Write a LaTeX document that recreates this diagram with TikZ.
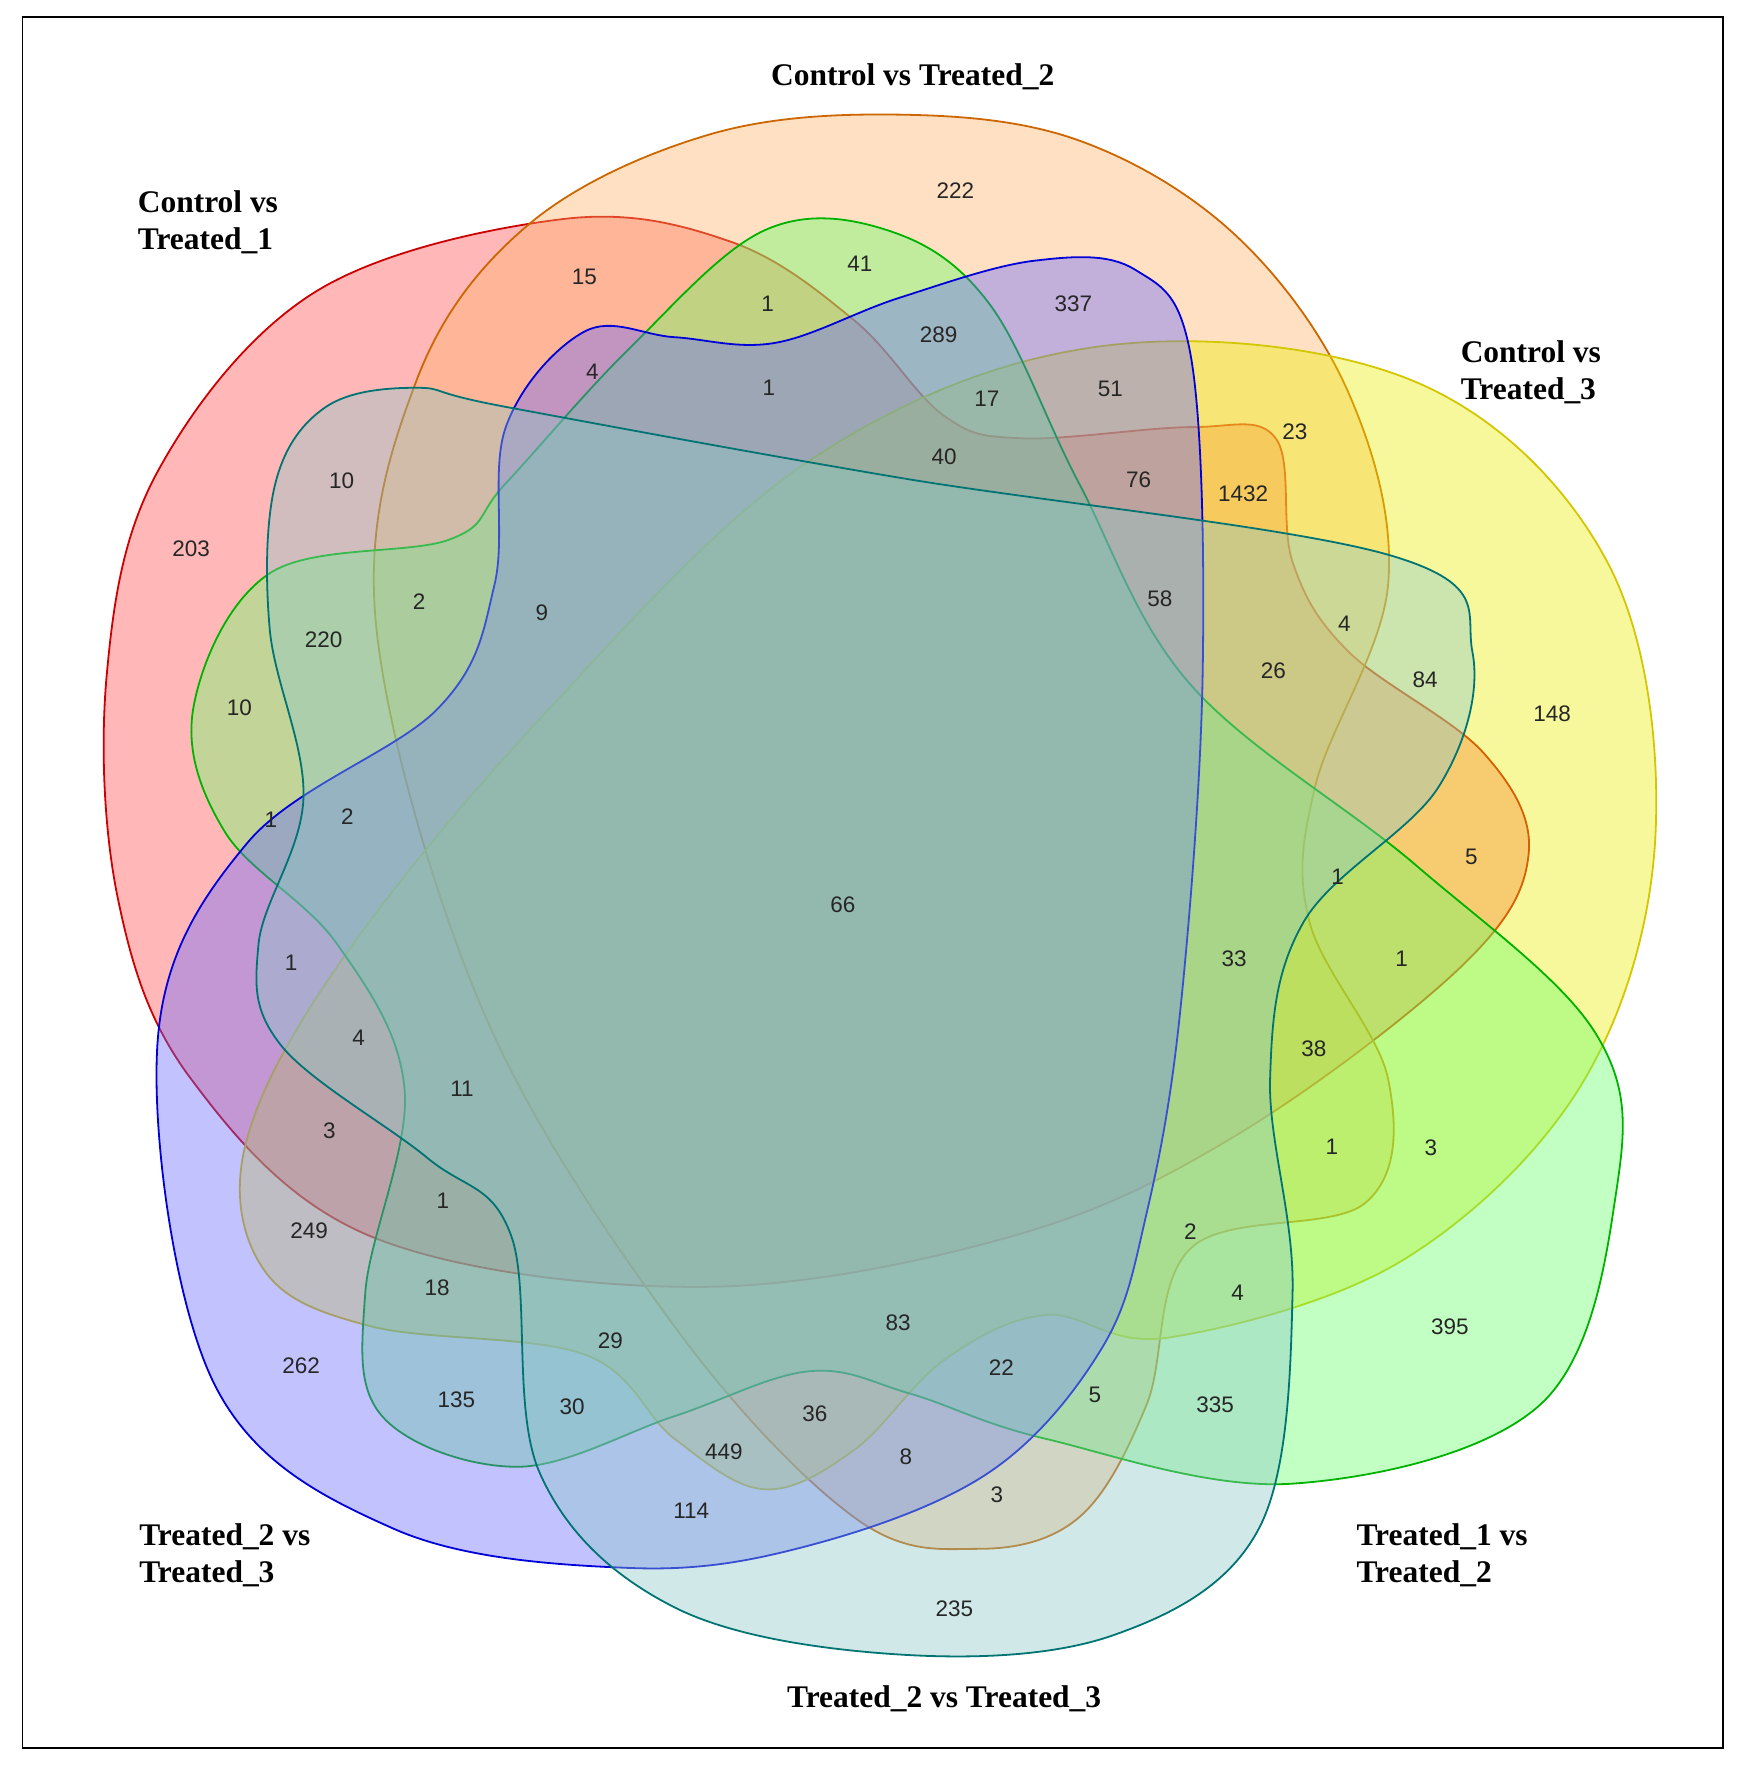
\documentclass[tikz,border=0pt]{standalone}
\usepackage{fontspec}
\setmainfont{Liberation Serif}
\newfontfamily\numf{Liberation Sans}
\begin{document}
\begin{tikzpicture}[x=1pt,y=-1pt,
  set/.style={line width=1.6pt,fill opacity=0.4},
  num/.style={font=\numf\fontsize{20}{24}\selectfont,text=black!85},
  ttl/.style={font=\bfseries\fontsize{28}{33}\selectfont,align=left}]
\useasboundingbox (0,0) rectangle (1555,1573);
\draw[line width=1.5pt] (20,15) rectangle (1533,1555);
% red
\draw[set,draw=red!80!black,fill=red!70] plot[smooth cycle,tension=0.6] coordinates{
(500,195)(650,215)(760,285)(840,370)(910,390)(1060,380)(1135,390)(1150,500)(1200,580)(1320,670)(1360,760)(1300,860)(1100,1010)(900,1100)(620,1145)(330,1100)(170,960)(105,800)(95,600)(140,420)(280,260)};
% orange
\draw[set,draw=orange!80!black,fill=orange!60] plot[smooth cycle,tension=0.6] coordinates{
(800,102)(960,125)(1100,210)(1200,350)(1235,520)(1170,700)(1165,820)(1235,960)(1215,1070)(1060,1110)(1020,1250)(960,1350)(870,1378)(760,1350)(600,1180)(430,900)(335,560)(370,340)(470,200)(630,120)};
% yellow-green
\draw[set,draw=yellow!60!olive,fill=yellow!70!lime] plot[smooth cycle,tension=0.6] coordinates{
(980,308)(1260,340)(1430,500)(1473,740)(1410,960)(1250,1120)(1040,1190)(930,1170)(840,1210)(760,1290)(680,1325)(600,1280)(520,1205)(330,1180)(235,1130)(218,1020)(300,860)(480,640)(720,410)};
% green
\draw[set,draw=green!70!black,fill=green!60] plot[smooth cycle,tension=0.6] coordinates{
(172,630)(240,510)(400,480)(450,430)(560,310)(680,205)(790,205)(880,270)(960,430)(1060,610)(1260,770)(1420,920)(1438,1060)(1370,1250)(1150,1320)(930,1280)(810,1240)(720,1220)(600,1260)(460,1305)(340,1260)(325,1150)(360,970)(300,840)(200,740)};
% blue
\draw[set,draw=blue!85!black,fill=blue!60] plot[smooth cycle,tension=0.6] coordinates{
(140,930)(220,750)(390,630)(440,520)(450,380)(520,295)(600,300)(690,305)(800,265)(920,232)(1010,240)(1060,320)(1070,600)(1050,900)(1020,1080)(980,1200)(880,1310)(720,1375)(560,1395)(350,1360)(190,1230)};
% teal
\draw[set,draw=teal!90!black,fill=teal!45] plot[smooth cycle,tension=0.6] coordinates{
(245,430)(290,362)(370,345)(450,362)(800,425)(1240,495)(1310,580)(1280,700)(1160,820)(1130,960)(1150,1150)(1120,1360)(990,1455)(800,1472)(600,1430)(480,1310)(455,1100)(380,1030)(250,930)(230,840)(270,710)(240,560)};
% titles
\node[ttl] (t1) at (185,198) {Control vs\\Treated\_1};
\node[ttl] (t2) at (812,68) {Control vs Treated\_2};
\node[ttl] (t3) at (1362,331) {Control vs\\Treated\_3};
\node[ttl] (t4) at (1283,1384) {Treated\_1 vs\\Treated\_2};
\node[ttl] (t5) at (840,1511) {Treated\_2 vs Treated\_3};
\node[ttl] (t6) at (200,1384) {Treated\_2 vs\\Treated\_3};
% numbers
\foreach \x/\y/\t [count=\i] in {850/170/222,520/246/15,765/235/41,683/270/1,955/270/337,835/298/289,527/331/4,684/345/1,878/355/17,988/346/51,1152/384/23,840/406/40,1013/427/76,1106/439/1432,304/428/10,170/488/203,1032/533/58,482/545/9,373/535/2,288/569/220,1196/555/4,1133/597/26,1268/605/84,1381/635/148,213/630/10,241/729/1,309/727/2,1190/780/1,1309/762/5,750/805/66,259/857/1,1098/853/33,1247/853/1,319/923/4,411/969/11,1169/933/38,293/1006/3,1185/1020/1,1273/1021/3,394/1068/1,275/1095/249,1059/1096/2,389/1146/18,1101/1150/4,799/1177/83,1290/1180/395,543/1193/29,268/1215/262,891/1217/22,406/1245/135,974/1241/5,1081/1250/335,509/1252/30,725/1258/36,644/1292/449,806/1296/8,887/1330/3,615/1344/114,849/1431/235}
  \node[num] (n\i) at (\x,\y) {\t};
\end{tikzpicture}
\end{document}
